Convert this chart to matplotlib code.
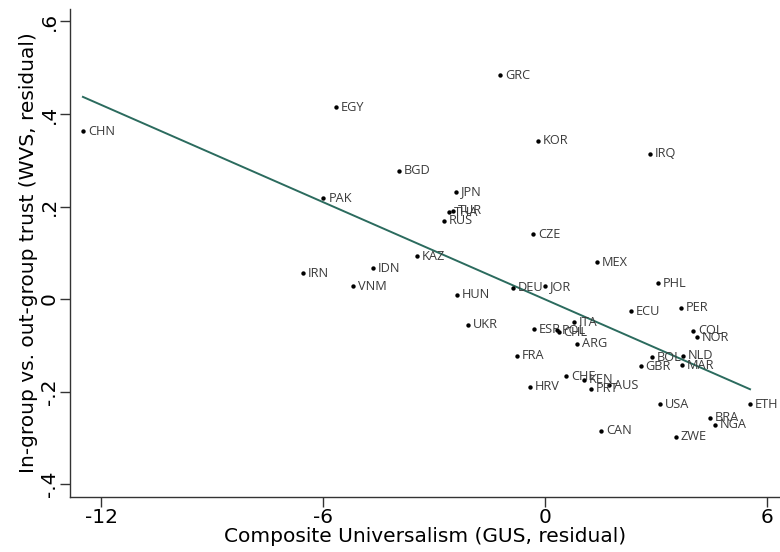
"""Scatter of in-group vs out-group trust against composite universalism, with fit line."""

import matplotlib
matplotlib.use("Agg")
import matplotlib.pyplot as plt

# country codes and residuals
countries = ["CHN", "EGY", "BGD", "PAK", "IRN", "IDN", "VNM", "KAZ", "GRC", "KOR",
             "IRQ", "JPN", "THA", "TUR", "RUS", "CZE", "MEX", "PHL", "DEU", "JOR",
             "HUN", "ECU", "PER", "ITA", "UKR", "ESP", "POL", "CHL", "COL", "NOR",
             "ARG", "FRA", "BOL", "NLD", "GBR", "MAR", "CHE", "KEN", "AUS", "HRV",
             "PRT", "USA", "ETH", "BRA", "NGA", "CAN", "ZWE"]
gus = [-12.49, -5.65, -3.95, -5.99, -6.54, -4.65, -5.19, -3.46, -1.22, -0.19,
       2.84, -2.41, -2.59, -2.48, -2.73, -0.32, 1.40, 3.05, -0.86, 0.0,
       -2.38, 2.32, 3.67, 0.78, -2.09, -0.30, 0.33, 0.37, 4.00, 4.11,
       0.87, -0.76, 2.90, 3.73, 2.59, 3.70, 0.57, 1.05, 1.73, -0.40,
       1.24, 3.11, 5.54, 4.46, 4.59, 1.51, 3.54]
trust = [0.363, 0.415, 0.277, 0.218, 0.056, 0.067, 0.028, 0.093, 0.484, 0.342,
         0.314, 0.232, 0.188, 0.191, 0.169, 0.140, 0.079, 0.034, 0.024, 0.028,
         0.009, -0.026, -0.019, -0.050, -0.056, -0.065, -0.068, -0.072, -0.069, -0.083,
         -0.097, -0.123, -0.126, -0.123, -0.145, -0.143, -0.167, -0.175, -0.186, -0.190,
         -0.194, -0.227, -0.227, -0.257, -0.272, -0.285, -0.298]

# fitted line endpoints
fit_x = [-12.49, 5.54]
fit_y = [0.437, -0.195]

xticks = [-12, -6, 0, 6]
xticklabels = ["-12", "-6", "0", "6"]
yticks = [0.6, 0.4, 0.2, 0.0, -0.2, -0.4]
yticklabels = [".6", ".4", ".2", "0", "-.2", "-.4"]

fig = plt.figure(figsize=(7.8, 5.52), dpi=100)
ax = fig.add_axes([0.0897, 0.0996, 0.9103, 0.8841])

ax.plot(fit_x, fit_y, color="#2b6b5e", lw=1.4, zorder=2)
ax.scatter(gus, trust, s=10, color="black", zorder=3, linewidths=0)
for c, x, y in zip(countries, gus, trust):
    ax.annotate(c, (x, y), xytext=(3.5, 0), textcoords="offset points",
                va="center", ha="left", fontsize=9.2, color="#3a3a3a",
                family="Open Sans", zorder=4)

ax.set_xlim(-12.84, 6.35)
ax.set_ylim(-0.428, 0.627)
ax.set_xticks(xticks)
ax.set_xticklabels(xticklabels, fontsize=14.5)
ax.set_yticks(yticks)
ax.set_yticklabels(yticklabels, fontsize=14.5, rotation=90, va="center")
ax.tick_params(direction="out", length=7, width=1.0, color="#333333", pad=1)
for side in ("top", "right"):
    ax.spines[side].set_visible(False)
for side in ("left", "bottom"):
    ax.spines[side].set_color("#333333")
    ax.spines[side].set_linewidth(1.0)

ax.set_xlabel("Composite Universalism (GUS, residual)", fontsize=14.5, labelpad=0)
ax.set_ylabel("In-group vs. out-group trust (WVS, residual)", fontsize=14.5, labelpad=1)

fig.savefig("out.png", dpi=100)
